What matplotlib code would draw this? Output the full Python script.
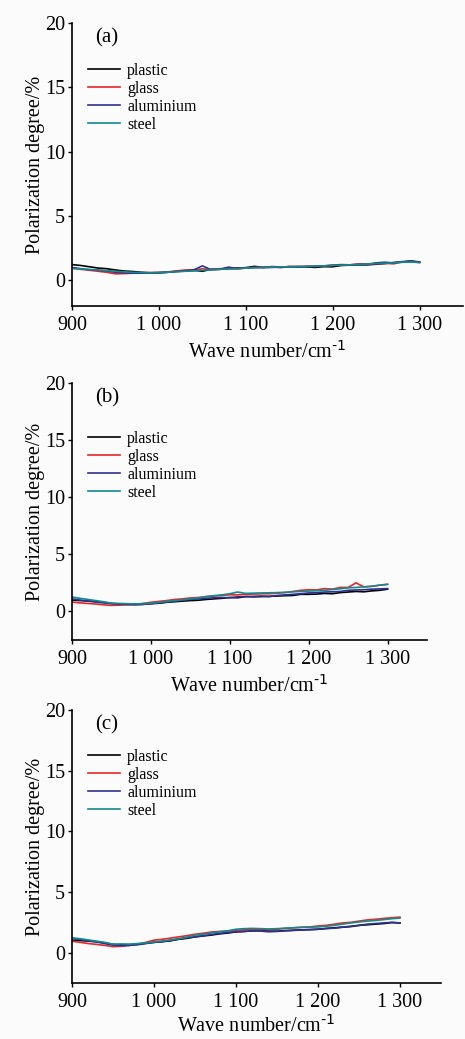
import numpy as np
import matplotlib
matplotlib.use('Agg')
import matplotlib.pyplot as plt
from matplotlib.ticker import FuncFormatter

plt.rcParams['font.family'] = ['Liberation Serif', 'DejaVu Serif']
plt.rcParams['mathtext.default'] = 'regular'

# wave numbers, one point every 10 cm-1
wave = list(range(900, 1301, 10))

materials = ['plastic', 'glass', 'aluminium', 'steel']
colors = ['#000000', '#e8262a', '#2e3192', '#138a8a']

# panel (a)
a_plastic = [1.22, 1.15, 1.05, 0.95, 0.90, 0.80, 0.72, 0.68, 0.62, 0.58, 0.58, 0.62, 0.70, 0.72,
             0.78, 0.70, 0.85, 0.86, 0.90, 0.95, 0.98, 1.08, 1.00, 1.06, 1.04, 1.05, 1.07, 1.04,
             1.00, 1.06, 1.05, 1.15, 1.18, 1.20, 1.20, 1.25, 1.30, 1.38, 1.42, 1.50, 1.42]
a_glass = [0.95, 0.85, 0.78, 0.70, 0.62, 0.50, 0.52, 0.55, 0.58, 0.60, 0.60, 0.65, 0.72, 0.80,
           0.82, 0.88, 0.85, 0.90, 0.92, 0.88, 0.95, 1.00, 1.02, 1.05, 0.98, 1.08, 1.05, 1.10,
           1.08, 1.12, 1.18, 1.22, 1.20, 1.28, 1.25, 1.30, 1.32, 1.28, 1.42, 1.45, 1.38]
a_aluminium = [1.00, 0.90, 0.82, 0.78, 0.72, 0.62, 0.58, 0.55, 0.55, 0.58, 0.60, 0.62, 0.68, 0.72,
               0.80, 1.12, 0.82, 0.85, 1.02, 0.92, 0.95, 1.00, 0.98, 1.00, 1.02, 1.05, 1.02, 1.06,
               1.08, 1.12, 1.15, 1.18, 1.20, 1.22, 1.25, 1.35, 1.40, 1.35, 1.45, 1.48, 1.40]
a_steel = [0.92, 0.88, 0.84, 0.80, 0.75, 0.70, 0.66, 0.62, 0.60, 0.58, 0.60, 0.63, 0.66, 0.70,
           0.72, 0.78, 0.82, 0.85, 0.88, 0.90, 0.95, 0.97, 1.00, 1.02, 1.04, 1.05, 1.06, 1.08,
           1.10, 1.12, 1.15, 1.18, 1.20, 1.22, 1.26, 1.30, 1.32, 1.35, 1.40, 1.42, 1.38]

# panel (b)
b_plastic = [1.00, 0.95, 0.92, 0.88, 0.80, 0.70, 0.66, 0.62, 0.60, 0.62, 0.68, 0.72, 0.80, 0.85,
             0.90, 0.95, 0.98, 1.05, 1.10, 1.15, 1.22, 1.20, 1.30, 1.28, 1.30, 1.32, 1.35, 1.38,
             1.40, 1.50, 1.50, 1.52, 1.58, 1.55, 1.65, 1.70, 1.75, 1.72, 1.80, 1.85, 1.95]
b_glass = [0.82, 0.75, 0.70, 0.65, 0.58, 0.53, 0.55, 0.58, 0.62, 0.70, 0.80, 0.88, 0.95, 1.05,
           1.10, 1.18, 1.22, 1.30, 1.35, 1.40, 1.46, 1.45, 1.50, 1.52, 1.55, 1.55, 1.60, 1.65,
           1.75, 1.85, 1.90, 1.88, 2.00, 1.95, 2.10, 2.10, 2.50, 2.15, 2.20, 2.30, 2.38]
b_aluminium = [1.10, 1.00, 0.90, 0.82, 0.75, 0.68, 0.64, 0.62, 0.60, 0.62, 0.68, 0.75, 0.82, 0.90,
               0.98, 1.05, 1.10, 1.15, 1.20, 1.22, 1.20, 1.28, 1.30, 1.32, 1.35, 1.30, 1.40, 1.45,
               1.50, 1.55, 1.62, 1.65, 1.70, 1.72, 1.75, 1.85, 1.88, 1.90, 1.95, 1.98, 2.00]
b_steel = [1.26, 1.15, 1.05, 0.95, 0.85, 0.72, 0.70, 0.68, 0.66, 0.68, 0.72, 0.80, 0.88, 0.95,
           1.02, 1.10, 1.18, 1.30, 1.38, 1.45, 1.55, 1.70, 1.58, 1.60, 1.62, 1.63, 1.65, 1.68,
           1.72, 1.75, 1.78, 1.82, 1.85, 1.92, 1.98, 2.07, 2.10, 2.15, 2.20, 2.30, 2.37]

# panel (c)
c_plastic = [1.03, 1.00, 0.95, 0.90, 0.80, 0.68, 0.64, 0.66, 0.70, 0.78, 0.85, 0.90, 0.98, 1.10,
             1.18, 1.30, 1.38, 1.45, 1.55, 1.62, 1.71, 1.75, 1.80, 1.82, 1.78, 1.77, 1.82, 1.85,
             1.88, 1.90, 1.93, 2.00, 2.05, 2.10, 2.15, 2.25, 2.30, 2.35, 2.40, 2.48, 2.45]
c_glass = [0.95, 0.85, 0.75, 0.68, 0.60, 0.50, 0.52, 0.60, 0.70, 0.85, 1.03, 1.10, 1.20, 1.30,
           1.40, 1.52, 1.60, 1.70, 1.75, 1.78, 1.85, 1.88, 1.92, 1.90, 1.90, 1.93, 2.00, 2.05,
           2.10, 2.12, 2.20, 2.25, 2.35, 2.45, 2.50, 2.60, 2.70, 2.75, 2.82, 2.88, 2.93]
c_aluminium = [1.17, 1.08, 0.98, 0.88, 0.75, 0.62, 0.58, 0.60, 0.65, 0.75, 0.85, 0.92, 1.00, 1.12,
               1.22, 1.30, 1.40, 1.50, 1.60, 1.66, 1.72, 1.75, 1.80, 1.78, 1.72, 1.75, 1.80, 1.83,
               1.87, 1.90, 1.93, 1.98, 2.02, 2.10, 2.18, 2.25, 2.35, 2.40, 2.45, 2.50, 2.45]
c_steel = [1.22, 1.15, 1.05, 0.95, 0.85, 0.70, 0.72, 0.70, 0.75, 0.80, 0.88, 0.95, 1.05, 1.15,
           1.28, 1.44, 1.52, 1.62, 1.72, 1.80, 1.93, 1.98, 2.00, 1.98, 1.95, 1.98, 2.02, 2.05,
           2.08, 2.10, 2.12, 2.18, 2.25, 2.35, 2.45, 2.53, 2.60, 2.65, 2.72, 2.80, 2.85]

panels = [
    ('(a)', [a_plastic, a_glass, a_aluminium, a_steel], -2.0),
    ('(b)', [b_plastic, b_glass, b_aluminium, b_steel], -2.5),
    ('(c)', [c_plastic, c_glass, c_aluminium, c_steel], -2.5),
]

W, H = 465, 1039
fig = plt.figure(figsize=(W / 100, H / 100), dpi=100)
fig.patch.set_facecolor('#fbfbfb')

# axes boxes in pixels: left, right, top, bottom
boxes = [(72, 463, 23, 306), (72, 427, 383, 640), (72, 441, 710, 983)]
leg_top = [63, 431, 749]
xlab_pad = [5, 5, 3]

def fmt(v, pos):
    return '{:,}'.format(int(v)).replace(',', ' ')

for i in range(3):
    name, series, ymin = panels[i]
    l, r, t, b = boxes[i]
    ax = fig.add_axes([l / W, 1 - b / H, (r - l) / W, (b - t) / H])
    ax.set_facecolor('none')
    for j in range(4):
        ax.plot(wave, series[j], color=colors[j], lw=1.2, label=materials[j])
    ax.set_xlim(900, 1350)
    ax.set_ylim(ymin, 20)
    ax.set_xticks([900, 1000, 1100, 1200, 1300])
    ax.set_yticks([0, 5, 10, 15, 20])
    ax.xaxis.set_major_formatter(FuncFormatter(fmt))
    ax.spines['top'].set_visible(False)
    ax.spines['right'].set_visible(False)
    ax.spines['left'].set_linewidth(1.2)
    ax.spines['bottom'].set_linewidth(1.2)
    ax.tick_params(direction='out', length=3, width=1, labelsize=14.5, pad=2)
    ax.tick_params(axis='x', pad=4)
    ax.set_ylabel('Polarization degree/%', fontsize=14.5, labelpad=0)
    ax.set_xlabel('Wave number/cm$^{\\text{-1}}$', fontsize=14.5, labelpad=xlab_pad[i])
    ax.text(95 / W, 1 - (t + 15) / H, name, transform=fig.transFigure,
            fontsize=15, ha='left', va='center')
    ax.legend(loc='upper left', bbox_to_anchor=(88 / W, 1 - leg_top[i] / H),
              bbox_transform=fig.transFigure, frameon=False, fontsize=11.5,
              handlelength=2.0, handletextpad=0.45, labelspacing=0.12,
              borderpad=0, borderaxespad=0)

plt.savefig('out.png', dpi=100, facecolor=fig.get_facecolor())
